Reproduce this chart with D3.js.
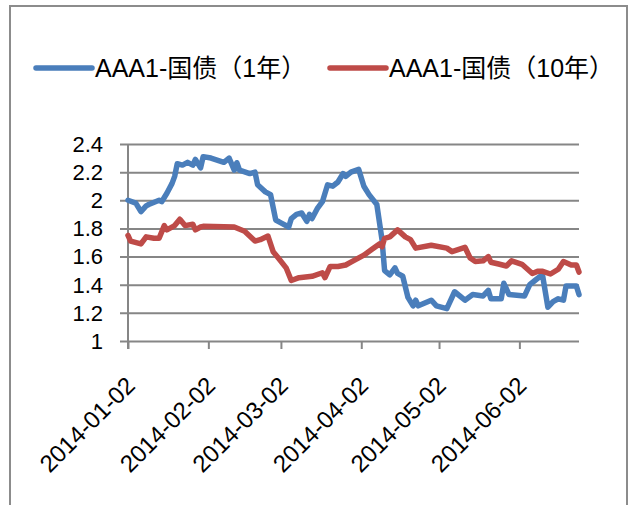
<!DOCTYPE html>
<html>
<head>
<meta charset="utf-8">
<script src="https://cdn.jsdelivr.net/npm/d3@7"></script>
<style>
  body { margin: 0; background: #fff; }
  text { font-family: "Liberation Sans", Arial, "Noto Sans CJK SC", sans-serif; fill: #000; }
</style>
</head>
<body>
<div id="chart"></div>
<script>
// series names
let seriesNames = ["AAA1-国债（1年）", "AAA1-国债（10年）"];

// AAA1 minus 1y treasury
let oneYearDates = ["2014-01-02", "2014-01-05", "2014-01-07", "2014-01-09", "2014-01-10", "2014-01-14",
    "2014-01-15", "2014-01-17", "2014-01-19", "2014-01-20", "2014-01-21", "2014-01-23", "2014-01-25",
    "2014-01-27", "2014-01-28", "2014-01-30", "2014-01-31", "2014-02-03", "2014-02-08", "2014-02-10",
    "2014-02-12", "2014-02-13", "2014-02-14", "2014-02-18", "2014-02-20", "2014-02-21", "2014-02-24",
    "2014-02-26", "2014-02-28", "2014-03-02", "2014-03-05", "2014-03-06", "2014-03-08", "2014-03-10",
    "2014-03-12", "2014-03-13", "2014-03-14", "2014-03-16", "2014-03-18", "2014-03-20", "2014-03-22",
    "2014-03-24", "2014-03-26", "2014-03-27", "2014-03-29", "2014-04-01", "2014-04-03", "2014-04-05",
    "2014-04-08", "2014-04-10", "2014-04-11", "2014-04-13", "2014-04-15", "2014-04-16", "2014-04-18",
    "2014-04-20", "2014-04-22", "2014-04-23", "2014-04-24", "2014-04-29", "2014-05-01", "2014-05-05",
    "2014-05-08", "2014-05-12", "2014-05-15", "2014-05-19", "2014-05-21", "2014-05-22", "2014-05-26",
    "2014-05-27", "2014-05-29", "2014-06-04", "2014-06-06", "2014-06-08", "2014-06-10", "2014-06-11",
    "2014-06-13", "2014-06-15", "2014-06-17", "2014-06-19", "2014-06-20", "2014-06-24", "2014-06-25"];
let oneYearValues = [2.00, 1.98, 1.92, 1.96, 1.97, 2.00,
    1.99, 2.05, 2.12, 2.17, 2.26, 2.25, 2.27,
    2.25, 2.29, 2.23, 2.31, 2.30, 2.27, 2.30,
    2.215, 2.267, 2.215, 2.19, 2.20, 2.11, 2.06,
    2.04, 1.86, 1.84, 1.81, 1.87, 1.90, 1.91,
    1.85, 1.90, 1.87, 1.94, 1.99, 2.11, 2.10,
    2.13, 2.19, 2.17, 2.20, 2.22, 2.10, 2.04,
    1.97, 1.72, 1.50, 1.47, 1.52, 1.48, 1.46,
    1.31, 1.25, 1.29, 1.25, 1.29, 1.25, 1.23,
    1.35, 1.29, 1.33, 1.32, 1.36, 1.30, 1.30,
    1.41, 1.33, 1.32, 1.40, 1.43, 1.46, 1.46,
    1.24, 1.28, 1.30, 1.29, 1.39, 1.39, 1.33];

// AAA1 minus 10y treasury
let tenYearDates = ["2014-01-02", "2014-01-03", "2014-01-07", "2014-01-09", "2014-01-12", "2014-01-14",
    "2014-01-16", "2014-01-17", "2014-01-20", "2014-01-22", "2014-01-24", "2014-01-27", "2014-01-28",
    "2014-01-30", "2014-01-31", "2014-02-12", "2014-02-16", "2014-02-20", "2014-02-22", "2014-02-25",
    "2014-02-27", "2014-03-01", "2014-03-04", "2014-03-06", "2014-03-09", "2014-03-14", "2014-03-18",
    "2014-03-19", "2014-03-21", "2014-03-24", "2014-03-27", "2014-03-29", "2014-04-03", "2014-04-06",
    "2014-04-09", "2014-04-10", "2014-04-11", "2014-04-13", "2014-04-16", "2014-04-19", "2014-04-21",
    "2014-04-23", "2014-04-29", "2014-05-05", "2014-05-07", "2014-05-12", "2014-05-14", "2014-05-16",
    "2014-05-19", "2014-05-21", "2014-05-22", "2014-05-25", "2014-05-28", "2014-05-30", "2014-06-03",
    "2014-06-07", "2014-06-09", "2014-06-11", "2014-06-14", "2014-06-17", "2014-06-19", "2014-06-22",
    "2014-06-24", "2014-06-25"];
let tenYearValues = [1.75, 1.71, 1.69, 1.74, 1.73, 1.73,
    1.82, 1.79, 1.82, 1.865, 1.82, 1.83, 1.79,
    1.81, 1.815, 1.81, 1.78, 1.71, 1.72, 1.746,
    1.635, 1.59, 1.52, 1.43, 1.45, 1.46, 1.485,
    1.45, 1.53, 1.53, 1.54, 1.56, 1.61, 1.65,
    1.69, 1.67, 1.73, 1.74, 1.79, 1.74, 1.72,
    1.66, 1.68, 1.66, 1.635, 1.666, 1.59, 1.565,
    1.57, 1.60, 1.56, 1.547, 1.533, 1.57, 1.545,
    1.48, 1.495, 1.495, 1.476, 1.51, 1.565, 1.54,
    1.54, 1.49];

// axis ticks
let yTicks = [1, 1.2, 1.4, 1.6, 1.8, 2, 2.2, 2.4];
let xTickLabels = ["2014-01-02", "2014-02-02", "2014-03-02", "2014-04-02", "2014-05-02", "2014-06-02"];
let xDomainEnd = "2014-06-25";

let colors = ["#4a7ebb", "#be4b48"];

let totalWidth = 631,
    totalHeight = 505;
let margin = { top: 144, right: 52, bottom: 164, left: 128 };
let width = totalWidth - margin.left - margin.right,
    height = totalHeight - margin.top - margin.bottom;

let parseDate = d3.timeParse("%Y-%m-%d");

let svg = d3.select("#chart").append("svg")
    .attr("width", totalWidth)
    .attr("height", totalHeight);

svg.append("rect")
    .attr("x", 10).attr("y", 6)
    .attr("width", 617).attr("height", 540)
    .attr("fill", "#fff")
    .attr("stroke", "#8c8c8c")
    .attr("stroke-width", 2);

let xScale = d3.scaleTime()
    .domain([parseDate(xTickLabels[0]), parseDate(xDomainEnd)])
    .range([0, width]);
let yScale = d3.scaleLinear()
    .domain([1, 2.4])
    .range([height, 0]);

let g = svg.append("g")
    .attr("transform", "translate(" + margin.left + "," + margin.top + ")");

// gridlines + y axis
let yAxis = d3.axisLeft(yScale)
    .tickValues(yTicks)
    .tickSize(-width - 8)
    .tickPadding(0)
    .tickFormat(d3.format(""));
let gy = g.append("g")
    .attr("transform", "translate(" + width + ",0)")
    .call(yAxis);
gy.select(".domain").remove();
gy.selectAll(".tick line")
    .attr("x1", 0)
    .attr("x2", -width - 8)
    .attr("stroke", "#868686")
    .attr("stroke-width", 2);
gy.selectAll(".tick text").remove();

g.selectAll(".ylab")
    .data(yTicks)
    .enter().append("text")
    .attr("class", "ylab")
    .attr("x", -25)
    .attr("y", d => yScale(d))
    .attr("dy", "0.36em")
    .attr("text-anchor", "end")
    .style("font-size", "22px")
    .text(d => d3.format("")(d));

g.append("line")
    .attr("x1", 0).attr("x2", 0)
    .attr("y1", 0).attr("y2", height + 8)
    .attr("stroke", "#868686")
    .attr("stroke-width", 2);

// x axis
let xAxis = d3.axisBottom(xScale)
    .tickValues(xTickLabels.map(parseDate))
    .tickSize(8)
    .tickFormat(d3.timeFormat("%Y-%m-%d"));
let gx = g.append("g")
    .attr("transform", "translate(0," + height + ")")
    .call(xAxis);
gx.select(".domain").remove();
gx.selectAll(".tick line")
    .attr("stroke", "#868686")
    .attr("stroke-width", 2);
gx.selectAll(".tick text")
    .attr("y", 0)
    .attr("x", 0)
    .attr("dy", "0.35em")
    .attr("text-anchor", "end")
    .attr("transform", "translate(2,40) rotate(-45)")
    .style("font-size", "24px")
    .style("font-family", "'Liberation Sans', Arial, sans-serif")
    .attr("fill", "#000");

// lines
let line = d3.line()
    .x(d => xScale(d[0]))
    .y(d => yScale(d[1]));

let series = [
    oneYearDates.map((d, i) => [parseDate(d), oneYearValues[i]]),
    tenYearDates.map((d, i) => [parseDate(d), tenYearValues[i]])
];

g.selectAll(".series")
    .data(series)
    .enter().append("path")
    .attr("class", "series")
    .attr("d", line)
    .attr("fill", "none")
    .attr("stroke", (d, i) => colors[i])
    .attr("stroke-width", 5.5)
    .attr("stroke-linejoin", "round")
    .attr("stroke-linecap", "round");

// legend
let legendX = [36, 330];
let legend = svg.selectAll(".legend")
    .data(seriesNames)
    .enter().append("g")
    .attr("class", "legend")
    .attr("transform", (d, i) => "translate(" + legendX[i] + ",68)");
legend.append("line")
    .attr("x1", 0).attr("x2", 56)
    .attr("stroke", (d, i) => colors[i])
    .attr("stroke-width", 5.5)
    .attr("stroke-linecap", "round");
legend.append("text")
    .attr("x", 59)
    .attr("dy", "0.36em")
    .style("font-size", "25px")
    .text(d => d);
</script>
</body>
</html>
